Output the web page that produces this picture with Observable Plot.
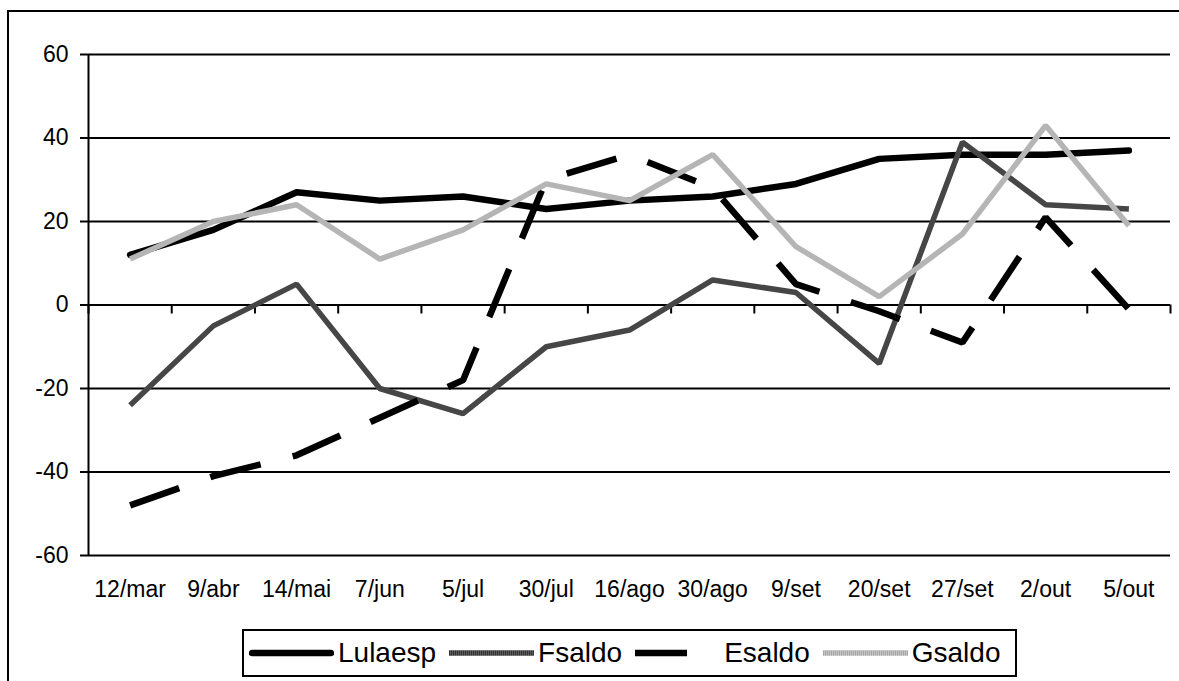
<!DOCTYPE html>
<html>
<head>
<meta charset="utf-8">
<script src="https://cdn.jsdelivr.net/npm/d3@7"></script>
<script src="https://cdn.jsdelivr.net/npm/@observablehq/plot@0.6"></script>
<style>
  html, body { margin: 0; padding: 0; background: #fff; overflow: hidden; }
  #page { position: relative; width: 1179px; height: 681px; overflow: hidden; font-family: "Liberation Sans", Arial, sans-serif; }
  #border { position: absolute; left: 7px; top: 10px; width: 1200px; height: 700px; border: 2px solid #000; box-sizing: border-box; }
  #chart { position: absolute; left: 0; top: 0; }
  #legend { position: absolute; left: 242px; top: 629px; width: 775px; height: 48px; border: 2px solid #000; box-sizing: border-box; background: #fff;
            display: flex; align-items: center; padding-left: 5px; }
  .item { display: flex; align-items: center; margin-right: 13px; }
  .item svg { display: block; }
  .item span { font-size: 28px; margin-left: 4px; line-height: 1; color: #000; }
</style>
</head>
<body>
<!-- striped stroke fills for the grey series -->
<svg width="0" height="0" style="position:absolute">
  <defs>
    <pattern id="stripeDark" patternUnits="userSpaceOnUse" width="2" height="2">
      <rect width="2" height="2" fill="#5a5a5a"></rect>
      <rect width="1" height="2" fill="#333333"></rect>
    </pattern>
    <pattern id="stripeLight" patternUnits="userSpaceOnUse" width="2" height="2">
      <rect width="2" height="2" fill="#c4c4c4"></rect>
      <rect width="1" height="2" fill="#a6a6a6"></rect>
    </pattern>
  </defs>
</svg>
<div id="page">
  <div id="border"></div>
  <div id="chart"></div>
  <div id="legend"></div>
</div>
<script>
// Survey dates (category axis)
const categories = ["12/mar", "9/abr", "14/mai", "7/jun", "5/jul", "30/jul", "16/ago", "30/ago", "9/set", "20/set", "27/set", "2/out", "5/out"];

// Series values
const lulaesp = [12, 18, 27, 25, 26, 23, 25, 26, 29, 35, 36, 36, 37];
const fsaldo  = [-24, -5, 5, -20, -26, -10, -6, 6, 3, -14, 39, 24, 23];
const esaldo  = [-48, -41, -36, -27, -18, 30, 36, 28, 5, -1.5, -9, 21, -1];
const gsaldo  = [11, 20, 24, 11, 18, 29, 25, 36, 14, 2, 17, 43, 19];

// Value axis ticks
const yTicks = [-60, -40, -20, 0, 20, 40, 60];

const seriesNames = ["Lulaesp", "Fsaldo", "Esaldo", "Gsaldo"];
const seriesValues = [lulaesp, fsaldo, esaldo, gsaldo];
const seriesStyle = {
  Lulaesp: {stroke: "#000000", strokeWidth: 6.5, strokeLinecap: "round", strokeLinejoin: "round"},
  Fsaldo:  {stroke: "url(#stripeDark)", strokeWidth: 5.5, strokeLinecap: "butt", strokeLinejoin: "miter"},
  Esaldo:  {stroke: "#000000", strokeWidth: 6.5, strokeLinecap: "butt", strokeLinejoin: "miter", strokeDasharray: "52,33"},
  Gsaldo:  {stroke: "url(#stripeLight)", strokeWidth: 5.5, strokeLinecap: "butt", strokeLinejoin: "miter"}
};

const indices = categories.map((_, i) => i);
const boundaries = categories.map((_, i) => i - 0.5).concat([categories.length - 0.5]);

const lineMarks = seriesNames.map((name, s) =>
  Plot.lineY(seriesValues[s].map((v, i) => ({i, v})), {x: "i", y: "v", ...seriesStyle[name]})
);

const chart = Plot.plot({
  width: 1179,
  height: 620,
  marginLeft: 88,
  marginRight: 9,
  marginTop: 54,
  marginBottom: 65,
  style: {fontFamily: "'Liberation Sans', Arial, sans-serif", fontSize: "23px", color: "#000", background: "transparent", overflow: "visible"},
  x: {type: "linear", domain: [-0.5, categories.length - 0.5]},
  y: {domain: [-60, 60]},
  marks: [
    Plot.gridY(yTicks, {stroke: "#000", strokeOpacity: 1, strokeWidth: 2}),
    Plot.axisY(yTicks, {tickSize: 8, tickPadding: 12, strokeWidth: 2, label: null, fontSize: 23, tickFormat: d => String(d)}),
    Plot.ruleX([-0.5], {stroke: "#000", strokeWidth: 2}),
    Plot.ruleX(boundaries, {x: d => d, y1: 0, y2: 0, insetBottom: -9, stroke: "#000", strokeWidth: 2}),
    Plot.axisX(indices, {tickSize: 0, tickPadding: 25, tickFormat: i => categories[i], label: null, fontSize: 23}),
    ...lineMarks
  ]
});
document.getElementById("chart").appendChild(chart);

// Legend
const legend = d3.select("#legend");
seriesNames.forEach(name => {
  const st = seriesStyle[name];
  const item = legend.append("div").attr("class", "item");
  const svg = item.append("svg").attr("width", 85).attr("height", 14);
  svg.append("line")
    .attr("x1", name === "Lulaesp" ? 3 : 0).attr("x2", name === "Lulaesp" ? 82 : 85)
    .attr("y1", 7).attr("y2", 7)
    .attr("stroke", st.stroke)
    .attr("stroke-width", st.strokeWidth)
    .attr("stroke-linecap", st.strokeLinecap)
    .attr("stroke-dasharray", st.strokeDasharray || null);
  item.append("span").text(name);
});
</script>
</body>
</html>
